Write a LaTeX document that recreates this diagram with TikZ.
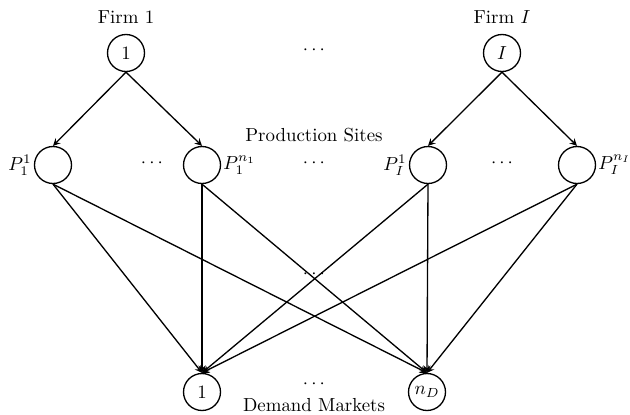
\documentclass[tikz,border=0pt]{standalone}
\usetikzlibrary{arrows}
\begin{document}
\begin{tikzpicture}[x=0.53pt,y=-0.53pt]
\tikzset{
    site/.style={draw, circle, minimum size=19.6pt, inner sep=0pt, line width=0.7pt},
    flow/.style={line width=0.7pt, -stealth},
    tag/.style={inner sep=1pt},
}
\useasboundingbox (0,0) rectangle (630,414);

% Firms
\node (firm1) [site] at (126,53) {$1$};
\node (firmI) [site] at (502,53) {$I$};
\node (lfirm1) at (126,17) {Firm 1};
\node (lfirmI) at (502,17) {Firm $I$};
\node (dfirm) at (314,50) {$\cdots$};

% Production sites
\foreach \name/\x in {p11/53, p1n/202, pI1/428, pIn/577}
    \node (\name) [site] at (\x,165) {};
\node (lp11) [tag, anchor=east] at (p11.west) {$P_1^1$};
\node (lp1n) [tag, anchor=west] at (p1n.east) {$P_1^{n_1}$};
\node (lpI1) [tag, anchor=east] at (pI1.west) {$P_I^1$};
\node (lpIn) [tag, anchor=west] at (pIn.east) {$P_I^{n_I}$};
\foreach \name/\x in {dp1/152, dpm/314, dpI/502}
    \node (\name) at (\x,163) {$\cdots$};
\node (lsites) at (314,135) {Production Sites};

% Demand markets
\node (d1) [site] at (202,392) {$1$};
\node (dn) [site] at (427,392) {$n_D$};
\node (dmid) at (314,274) {$\cdots$};
\node (ddem) at (314,384) {$\cdots$};
\node (lmarkets) at (314,405) {Demand Markets};

% Links
\foreach \f/\p in {firm1/p11, firm1/p1n, firmI/pI1, firmI/pIn}
    \draw[flow] (\f.south) -- (\p.north);
\foreach \p in {p11, p1n, pI1, pIn}
    \foreach \d in {d1, dn}
        \draw[flow] (\p.south) -- (\d.north);

\end{tikzpicture}
\end{document}
